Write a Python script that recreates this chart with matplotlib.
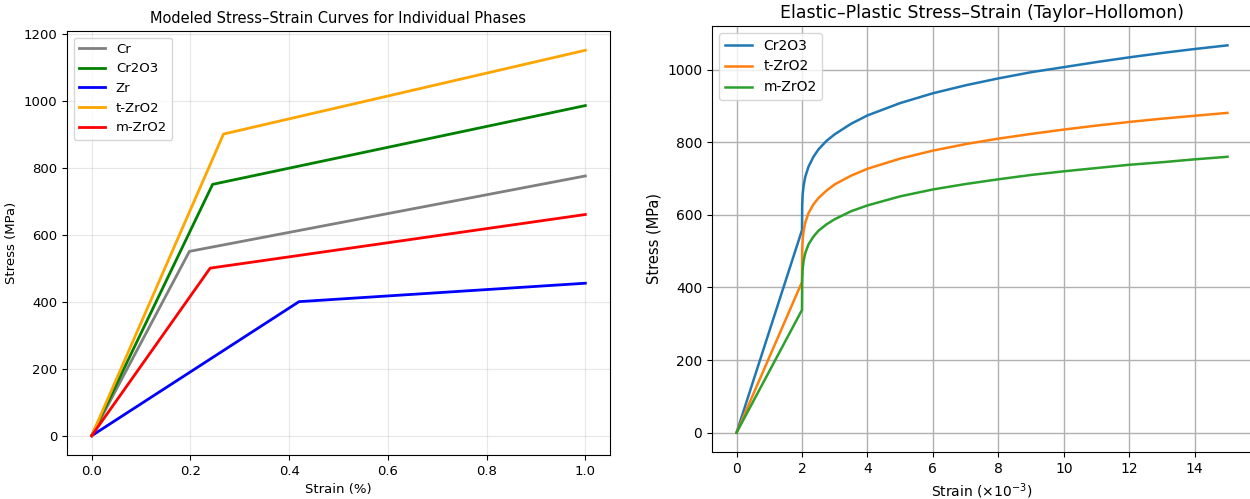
import matplotlib.pyplot as plt

# left panel: bilinear curves (strain in %, stress in MPa)
phases = ["Cr", "Cr2O3", "Zr", "t-ZrO2", "m-ZrO2"]
phase_colors = ["gray", "green", "blue", "orange", "red"]
yield_strain = [0.198, 0.245, 0.42, 0.267, 0.24]
yield_stress = [550, 750, 400, 900, 500]
end_strain = [1.0, 1.0, 1.0, 1.0, 1.0]
end_stress = [775, 985, 455, 1150, 660]

# right panel (strain x1e-3, stress MPa)
strain_th = [0, 2, 2, 2.005, 2.02, 2.05, 2.1, 2.2, 2.35, 2.5, 2.75, 3, 3.5,
             4, 5, 6, 7, 8, 9, 10, 11, 12, 13, 14, 15]
cr2o3_th = [0, 558, 558, 626, 656, 681, 705, 733, 760, 780, 804, 822, 851,
            874, 908, 935, 957, 976, 993, 1007, 1021, 1034, 1046, 1057, 1067]
tzro2_th = [0, 415, 415, 501, 531, 556, 579, 605, 629, 646, 667, 684, 708,
            727, 755, 777, 795, 810, 823, 835, 846, 856, 865, 873, 881]
mzro2_th = [0, 338, 338, 423, 451, 474, 495, 519, 540, 556, 574, 588, 610,
            626, 651, 670, 685, 698, 710, 720, 729, 738, 745, 753, 760]

fig = plt.figure(figsize=(12.5, 4.99), dpi=100)

W, H = 1250.0, 499.0
ax1 = fig.add_axes([67 / W, 1 - 455 / H, (610 - 67) / W, (455 - 31) / H])
ax2 = fig.add_axes([712 / W, 1 - 452 / H, (1252 - 712) / W, (452 - 26) / H])

for name, c, ex, ey, sx, sy in zip(phases, phase_colors, yield_strain, yield_stress,
                                   end_strain, end_stress):
    ax1.plot([0, ex, sx], [0, ey, sy], color=c, lw=2, label=name)
ax1.set_title("Modeled Stress\u2013Strain Curves for Individual Phases", fontsize=10.5)
ax1.set_xlabel("Strain (%)", fontsize=9.5)
ax1.set_ylabel("Stress (MPa)", fontsize=9.5)
ax1.tick_params(labelsize=9.5)
ax1.grid(True, alpha=0.3)
ax1.legend(loc="upper left", fontsize=9.5)

ax2.plot(strain_th, cr2o3_th, color="tab:blue", lw=1.8, label="Cr2O3")
ax2.plot(strain_th, tzro2_th, color="tab:orange", lw=1.8, label="t-ZrO2")
ax2.plot(strain_th, mzro2_th, color="tab:green", lw=1.8, label="m-ZrO2")
ax2.set_title("Elastic\u2013Plastic Stress\u2013Strain (Taylor\u2013Hollomon)", fontsize=12.5, pad=6)
ax2.set_xlabel(r"Strain ($\times10^{-3}$)", fontsize=10)
ax2.set_ylabel("Stress (MPa)", fontsize=10.5)
ax2.set_xticks(range(0, 16, 2))
ax2.tick_params(labelsize=10)
ax2.grid(True, color="#b0b0b0", lw=1)
ax2.legend(loc="upper left", fontsize=10)

fig.savefig("out.png", dpi=100)
